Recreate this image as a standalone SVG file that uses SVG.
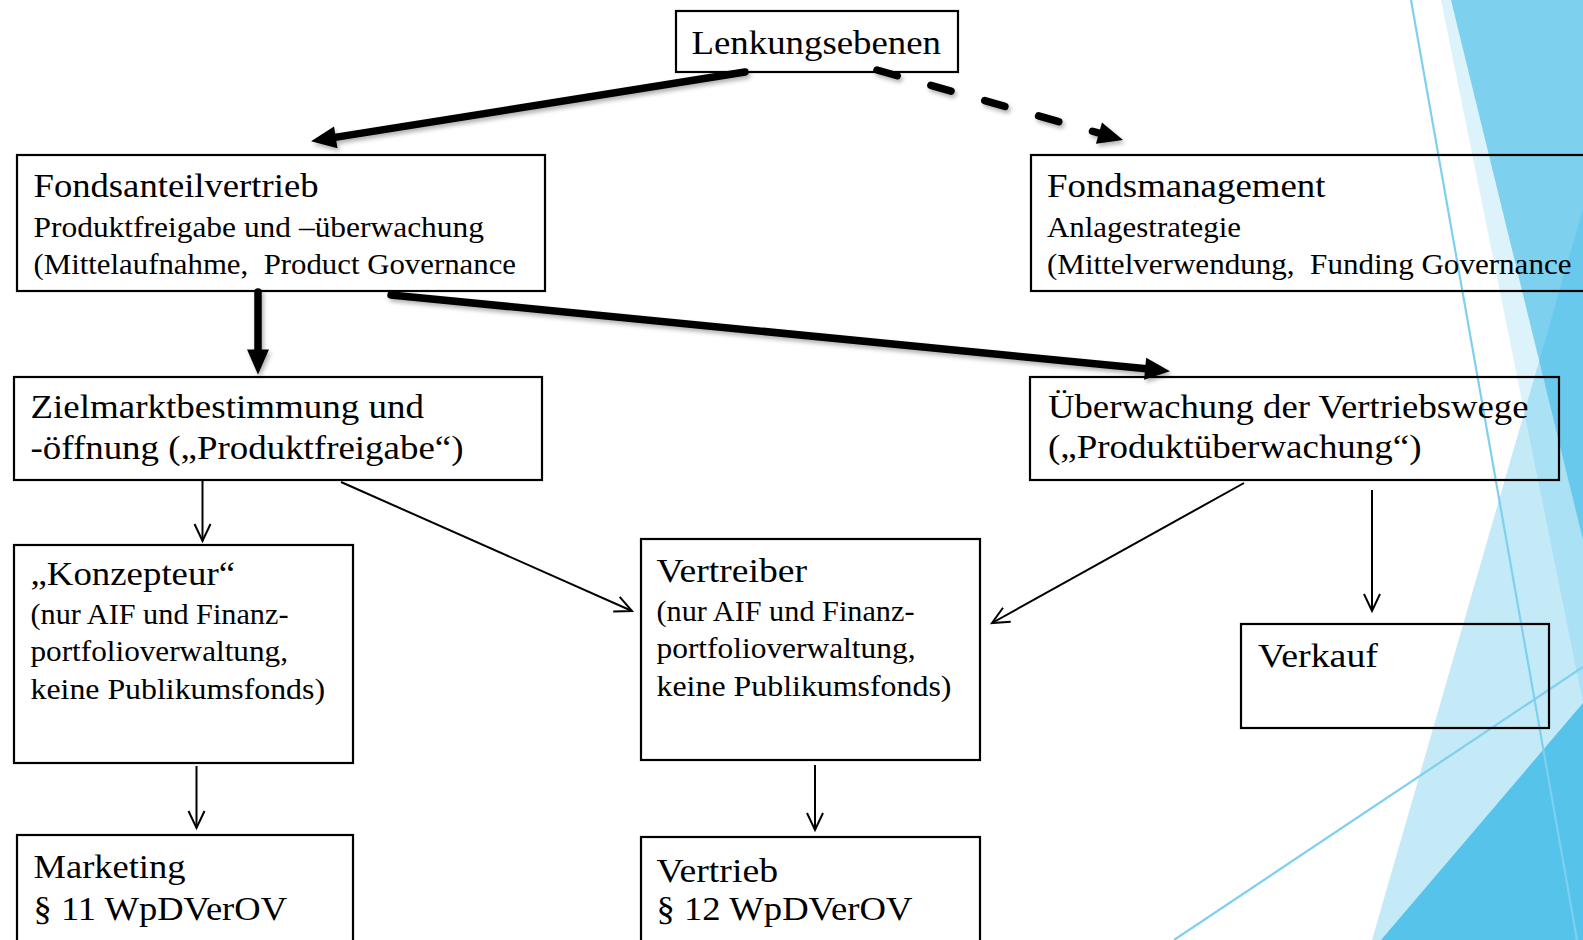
<svg xmlns="http://www.w3.org/2000/svg" width="1583" height="940" viewBox="0 0 1583 940">
  <style>
    .box { fill: none; stroke: #000; stroke-width: 2.2; }
    .t { font-family: "Liberation Serif", "Times New Roman", Times, serif; fill: #000; }
    .big { font-size: 34px; }
    .small { font-size: 29px; }
    .thick { fill: none; stroke: #000; stroke-width: 7.5; stroke-linecap: round; }
    .dash { stroke-dasharray: 21 35; }
    .thin { fill: none; stroke: #000; stroke-width: 2; }
    .facet { fill: #3DBBE8; }
    .deco-line { fill: none; stroke: #7ED0EE; stroke-width: 2.2; }
  </style>
  <defs>
    <marker id="headFilled" markerUnits="userSpaceOnUse" markerWidth="32" markerHeight="30" viewBox="-2 -14 32 28" refX="4" refY="0" orient="auto">
      <path d="M0,-11 L25,0 L0,11 Z" fill="#000"/>
    </marker>
    <marker id="headOpen" markerUnits="userSpaceOnUse" markerWidth="24" markerHeight="24" viewBox="-20 -12 24 24" refX="0" refY="0" orient="auto">
      <path d="M-17,-8 L0,0 L-17,8" fill="none" stroke="#000" stroke-width="2"/>
    </marker>
    <filter id="shadow" x="-10%" y="-50%" width="120%" height="200%">
      <feDropShadow dx="2" dy="3" stdDeviation="2" flood-color="#000" flood-opacity="0.3"/>
    </filter>
  </defs>

  <rect width="1583" height="940" fill="#fff"/>

  <!-- decorative facets on the right edge -->
  <g id="decoration">
    <polygon class="facet" points="1441,0 1583,0 1583,703" fill-opacity="0.18"/>
    <polygon points="1451,0 1583,0 1583,540" fill="#7DD0EE"/>
    <polygon class="facet" points="1372,940 1583,209 1583,940" fill-opacity="0.3"/>
    <polygon points="1381,940 1583,703 1583,940" fill="#55C3EA"/>
    <line class="deco-line" x1="1411" y1="0" x2="1577" y2="940"/>
    <line class="deco-line" x1="1174" y1="940" x2="1583" y2="667"/>
  </g>

  <!-- connectors -->
  <g id="connectors">
    <g filter="url(#shadow)">
      <line class="thick" x1="745" y1="72" x2="331.8" y2="137.9" marker-end="url(#headFilled)"/>
      <line class="thick dash" x1="877" y1="70" x2="1102.8" y2="134.2" marker-end="url(#headFilled)"/>
      <line class="thick" x1="258" y1="292" x2="258" y2="353.5" marker-end="url(#headFilled)"/>
      <line class="thick" x1="391" y1="295" x2="1149.1" y2="369.1" marker-end="url(#headFilled)"/>
    </g>
    <line class="thin" x1="202.5" y1="481" x2="202.5" y2="541" marker-end="url(#headOpen)"/>
    <line class="thin" x1="341" y1="482" x2="632" y2="611" marker-end="url(#headOpen)"/>
    <line class="thin" x1="1244" y1="483" x2="992" y2="623" marker-end="url(#headOpen)"/>
    <line class="thin" x1="1372" y1="490" x2="1372" y2="611" marker-end="url(#headOpen)"/>
    <line class="thin" x1="196.5" y1="766" x2="196.5" y2="828" marker-end="url(#headOpen)"/>
    <line class="thin" x1="815" y1="765" x2="815" y2="830" marker-end="url(#headOpen)"/>
  </g>

  <g id="lenkungsebenen">
    <rect class="box" x="676" y="11" width="282" height="61"/>
    <text class="t big" x="691.5" y="53.5" textLength="249.5" lengthAdjust="spacingAndGlyphs">Lenkungsebenen</text>
  </g>

  <g id="fondsanteilvertrieb">
    <rect class="box" x="17" y="155" width="528" height="136"/>
    <text class="t big" x="33.5" y="197" textLength="285" lengthAdjust="spacingAndGlyphs">Fondsanteilvertrieb</text>
    <text class="t small" x="33.5" y="236.5" textLength="450.5" lengthAdjust="spacingAndGlyphs">Produktfreigabe und –überwachung</text>
    <text class="t small" x="33.5" y="273.5" textLength="482.5" lengthAdjust="spacingAndGlyphs" xml:space="preserve">(Mittelaufnahme,  Product Governance</text>
  </g>

  <g id="fondsmanagement">
    <rect class="box" x="1031" y="155" width="580" height="136"/>
    <text class="t big" x="1047" y="197" textLength="278.5" lengthAdjust="spacingAndGlyphs">Fondsmanagement</text>
    <text class="t small" x="1047" y="236.5" textLength="194" lengthAdjust="spacingAndGlyphs">Anlagestrategie</text>
    <text class="t small" x="1047" y="273.5" textLength="524.5" lengthAdjust="spacingAndGlyphs" xml:space="preserve">(Mittelverwendung,  Funding Governance</text>
  </g>

  <g id="zielmarktbestimmung">
    <rect class="box" x="14" y="377" width="528" height="103"/>
    <text class="t big" x="30.5" y="418" textLength="393.5" lengthAdjust="spacingAndGlyphs">Zielmarktbestimmung und</text>
    <text class="t big" x="30.5" y="459" textLength="433" lengthAdjust="spacingAndGlyphs">-öffnung („Produktfreigabe“)</text>
  </g>

  <g id="ueberwachung">
    <rect class="box" x="1030" y="377" width="529" height="103"/>
    <text class="t big" x="1048" y="417.5" textLength="480.5" lengthAdjust="spacingAndGlyphs">Überwachung der Vertriebswege</text>
    <text class="t big" x="1048" y="458" textLength="373.5" lengthAdjust="spacingAndGlyphs">(„Produktüberwachung“)</text>
  </g>

  <g id="konzepteur">
    <rect class="box" x="14" y="545" width="339" height="218"/>
    <text class="t big" x="30.5" y="585" textLength="204.5" lengthAdjust="spacingAndGlyphs">„Konzepteur“</text>
    <text class="t small" x="30.5" y="623.5" textLength="258" lengthAdjust="spacingAndGlyphs">(nur AIF und Finanz-</text>
    <text class="t small" x="30.5" y="661" textLength="257.5" lengthAdjust="spacingAndGlyphs">portfolioverwaltung,</text>
    <text class="t small" x="30.5" y="698.5" textLength="294.5" lengthAdjust="spacingAndGlyphs">keine Publikumsfonds)</text>
  </g>

  <g id="vertreiber">
    <rect class="box" x="641" y="539" width="339" height="221"/>
    <text class="t big" x="656.5" y="582" textLength="150.5" lengthAdjust="spacingAndGlyphs">Vertreiber</text>
    <text class="t small" x="656.5" y="620.5" textLength="258" lengthAdjust="spacingAndGlyphs">(nur AIF und Finanz-</text>
    <text class="t small" x="656.5" y="658" textLength="259" lengthAdjust="spacingAndGlyphs">portfolioverwaltung,</text>
    <text class="t small" x="656.5" y="695.5" textLength="295" lengthAdjust="spacingAndGlyphs">keine Publikumsfonds)</text>
  </g>

  <g id="verkauf">
    <rect class="box" x="1241" y="624" width="308" height="104"/>
    <text class="t big" x="1258" y="666.5" textLength="120" lengthAdjust="spacingAndGlyphs">Verkauf</text>
  </g>

  <g id="marketing">
    <rect class="box" x="17" y="835" width="336" height="120"/>
    <text class="t big" x="33.5" y="877.5" textLength="152" lengthAdjust="spacingAndGlyphs">Marketing</text>
    <text class="t big" x="33.5" y="920" textLength="253.5" lengthAdjust="spacingAndGlyphs">§ 11 WpDVerOV</text>
  </g>

  <g id="vertrieb">
    <rect class="box" x="641" y="837" width="339" height="120"/>
    <text class="t big" x="656.5" y="881.5" textLength="121.5" lengthAdjust="spacingAndGlyphs">Vertrieb</text>
    <text class="t big" x="656.5" y="919.5" textLength="256" lengthAdjust="spacingAndGlyphs">§ 12 WpDVerOV</text>
  </g>
</svg>
